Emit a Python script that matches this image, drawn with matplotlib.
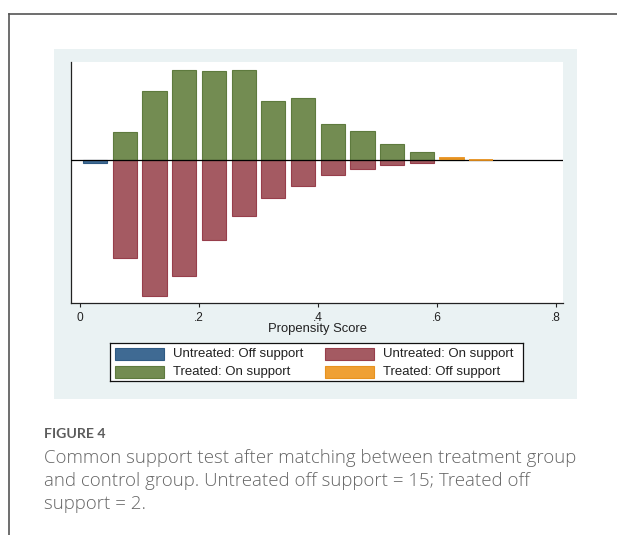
import matplotlib
matplotlib.use("Agg")
import matplotlib.pyplot as plt
from matplotlib.patches import Rectangle
from matplotlib.lines import Line2D

# Propensity score bins (width 0.05) and frequencies per group
untreated_off_x = [0.025]
untreated_off = [15]

treated_on_x = [0.075, 0.125, 0.175, 0.225, 0.275, 0.325, 0.375, 0.425, 0.475, 0.525, 0.575, 0.625]
treated_on = [142, 347, 450, 445, 450, 293, 310, 178, 147, 80, 38, 7]

untreated_on_x = [0.075, 0.125, 0.175, 0.225, 0.275, 0.325, 0.375, 0.425, 0.475, 0.525, 0.575]
untreated_on = [492, 680, 580, 400, 280, 188, 128, 73, 47, 25, 13]

treated_off_x = [0.625, 0.675]
treated_off = [1, 1]

xticks = [0, 0.2, 0.4, 0.6, 0.8]
xtick_labels = ["0", ".2", ".4", ".6", ".8"]

legend_labels = ["Untreated: Off support", "Untreated: On support",
                 "Treated: On support", "Treated: Off support"]

caption_title = "FIGURE 4"
caption_lines = [
    "Common support test after matching between treatment group",
    "and control group. Untreated off support = 15; Treated off",
    "support = 2.",
]

W, H = 617, 535
fig = plt.figure(figsize=(W / 100, H / 100), dpi=100)
fig.patch.set_facecolor("white")


def fx(px):
    return px / W


def fy(py):
    return 1 - py / H


# page frame lines (top and left)
fig.add_artist(Line2D([fx(9.3), 1.0], [fy(14), fy(14)], color="#555555", lw=1.2))
fig.add_artist(Line2D([fx(9.3), fx(9.3)], [fy(14), 0.0], color="#555555", lw=1.2))

# graph region background
fig.add_artist(Rectangle((fx(54.3), fy(399)), fx(576.7) - fx(54.3), fy(49.3) - fy(399),
                         transform=fig.transFigure, facecolor="#EAF2F3",
                         edgecolor="none", zorder=0))

BLUE, BLUE_E = "#3F6A93", "#2F5A83"
RED, RED_E = "#A45A62", "#973E4B"
GREEN, GREEN_E = "#738C52", "#5E7A3E"
ORANGE, ORANGE_E = "#EFA034", "#E8921F"

# plot area
x0, x1, y0, y1 = 71, 563.3, 61.7, 303.3
ax = fig.add_axes([fx(x0), fy(y1), fx(x1) - fx(x0), fy(y0) - fy(y1)])
ax.set_facecolor("white")

bw = 0.0405
lw = 0.8
ax.bar(untreated_off_x, [-v for v in untreated_off], width=bw, color=BLUE,
       edgecolor=BLUE_E, linewidth=lw, zorder=2)
ax.bar(untreated_on_x, [-v for v in untreated_on], width=bw, color=RED,
       edgecolor=RED_E, linewidth=lw, zorder=2)
ax.bar(treated_on_x, treated_on, width=bw, color=GREEN,
       edgecolor=GREEN_E, linewidth=lw, zorder=2)
base = [dict(zip(treated_on_x, treated_on)).get(x, 0) for x in treated_off_x]
ax.bar(treated_off_x, treated_off, bottom=base, width=bw, color=ORANGE,
       edgecolor=ORANGE_E, linewidth=1.3, zorder=5)

ax.axhline(0, color="black", lw=0.9, zorder=4)

# pixel scale: 0.8 units over 475.5 px, 5 counts per px vertically
xpx = 475.5 / 0.8
ax.set_xlim((x0 - 80.2) / xpx, (x1 - 80.2) / xpx)
ax.set_ylim(-(y1 - 160) * 5, (160 - y0) * 5)

for s in ["top", "right"]:
    ax.spines[s].set_visible(False)
for s in ["left", "bottom"]:
    ax.spines[s].set_color("#222222")
    ax.spines[s].set_linewidth(0.9)

ax.set_yticks([])
ax.set_xticks(xticks)
ax.set_xticklabels(xtick_labels, fontfamily="Liberation Sans", fontsize=8.6, color="#222222")
ax.tick_params(axis="x", length=2.8, width=0.8, color="#222222", pad=3.5)
ax.set_xlabel("Propensity Score", fontfamily="Liberation Sans", fontsize=9.4,
              color="#222222", labelpad=-0.6)

# legend box
lx0, lx1, ly0, ly1 = 109.8, 523.3, 342.5, 381.3
lax = fig.add_axes([fx(lx0), fy(ly1), fx(lx1) - fx(lx0), fy(ly0) - fy(ly1)])
lax.set_xlim(0, lx1 - lx0)
lax.set_ylim(ly1 - ly0, 0)
lax.set_xticks([])
lax.set_yticks([])
lax.set_facecolor("white")
for s in lax.spines.values():
    s.set_color("#111111")
    s.set_linewidth(0.9)

entries = [
    (legend_labels[0], BLUE, BLUE_E, 114.7, 354.0, 173.3),
    (legend_labels[1], RED, RED_E, 325.3, 354.0, 383.3),
    (legend_labels[2], GREEN, GREEN_E, 114.7, 371.7, 173.3),
    (legend_labels[3], ORANGE, ORANGE_E, 325.3, 371.7, 383.3),
]
for label, fc, ec, sx, cy, tx in entries:
    lax.add_patch(Rectangle((sx - lx0, cy - ly0 - 5.8), 49, 11.6,
                            facecolor=fc, edgecolor=ec, linewidth=0.8))
    lax.text(tx - lx0, cy - ly0 + 0.3, label, fontfamily="Liberation Sans",
             fontsize=9.5, color="#222222", va="center", ha="left")

# caption
fig.text(fx(44.3), fy(438.3), caption_title, fontfamily="Lato", fontweight="bold",
         fontsize=10.2, color="#5c5c5c", va="baseline", ha="left")
for i, line in enumerate(caption_lines):
    fig.text(fx(44.3), fy(462.7 + 23.3 * i), line, fontfamily="Open Sans",
             fontweight="light", fontsize=13.4, color="#666666",
             va="baseline", ha="left")

fig.savefig("out.png", dpi=100, facecolor="white")
